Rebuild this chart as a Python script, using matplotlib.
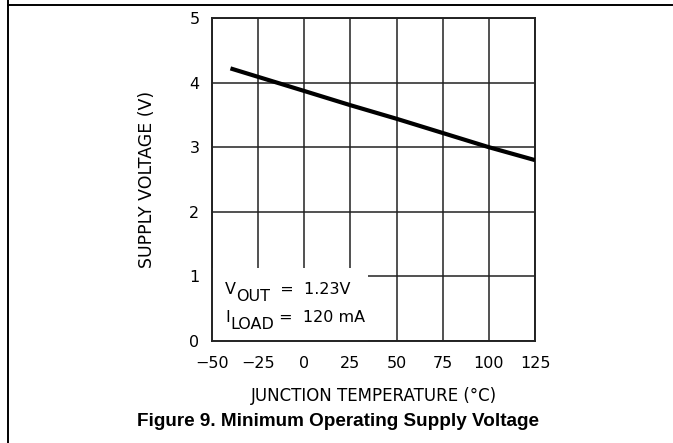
import matplotlib
matplotlib.use("Agg")
import matplotlib.pyplot as plt
from matplotlib.patches import Rectangle
from matplotlib.lines import Line2D

# data
temp_c = [-40, 0, 25, 50, 75, 100, 125]
v_min = [4.22, 3.87, 3.65, 3.44, 3.22, 3.00, 2.80]

x_ticks = [-50, -25, 0, 25, 50, 75, 100, 125]
y_ticks = [0, 1, 2, 3, 4, 5]

plt.rcParams['font.family'] = 'DejaVu Sans'

fig = plt.figure(figsize=(6.73, 4.43), dpi=100)
ax = fig.add_axes([212 / 673, 1 - 341 / 443, 323 / 673, 323 / 443])

ax.plot(temp_c, v_min, color='black', linewidth=3.0, solid_capstyle='butt', zorder=3)

ax.set_xlim(-50, 125)
ax.set_ylim(0, 5)
ax.set_xticks(x_ticks)
ax.set_yticks(y_ticks)
ax.set_xticklabels([str(t).replace('-', '\u2212') for t in x_ticks])
ax.tick_params(length=0, labelsize=11.5, pad=9)
ax.tick_params(axis='x', pad=11)
ax.set_axisbelow(True)
ax.grid(True, color='#222222', linewidth=1.1)
for s in ax.spines.values():
    s.set_linewidth(1.4)
    s.set_color('#222222')

# white patch behind the conditions text
ax.add_patch(Rectangle((0, 0), 0.483, 0.226, transform=ax.transAxes,
                       facecolor='white', edgecolor='none', zorder=1))


def cond_line(y, main, sub, rest):
    # main letter, full-size subscript dropped a little, then the value
    t = ax.text(0.040, y, main, transform=ax.transAxes, fontsize=11.5,
                va='bottom', ha='left', zorder=4)
    s = ax.annotate(sub, xy=(1, 0), xycoords=t, xytext=(0.3, -5),
                    textcoords='offset points', fontsize=11.5,
                    va='bottom', ha='left', zorder=4)
    ax.annotate(rest, xy=(1, 0), xycoords=s, xytext=(0, 5),
                textcoords='offset points', fontsize=11.5,
                va='bottom', ha='left', zorder=4)


cond_line(0.136, 'V', 'OUT', '  =  1.23V')
cond_line(0.050, 'I', 'LOAD', ' =  120 mA')

ax.set_xlabel('JUNCTION TEMPERATURE (\u00b0C)', fontsize=12, labelpad=11)
ax.set_ylabel('SUPPLY VOLTAGE (V)', fontsize=12.5, labelpad=24)

fig.text(0.502, 1 - 421 / 443, 'Figure 9. Minimum Operating Supply Voltage',
         family='Liberation Sans', fontweight='bold', fontsize=13.6,
         ha='center', va='center')

# page frame lines
fig.add_artist(Line2D([8 / 673, 8 / 673], [0, 1], transform=fig.transFigure,
                      color='black', linewidth=1.4))
fig.add_artist(Line2D([8 / 673, 672 / 673], [1 - 5 / 443, 1 - 5 / 443],
                      transform=fig.transFigure, color='black', linewidth=1.4))

fig.savefig('out.png', dpi=100)
